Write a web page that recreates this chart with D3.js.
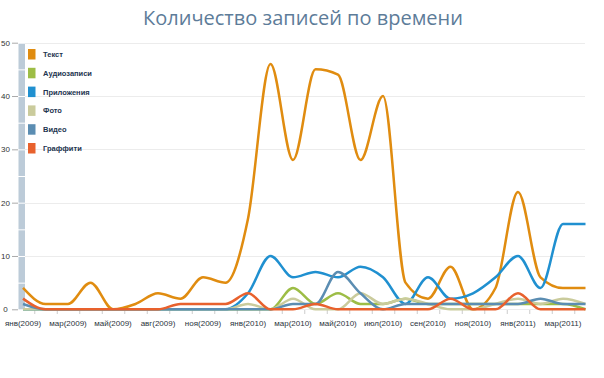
<!DOCTYPE html>
<html>
<head>
<meta charset="utf-8">
<script src="https://cdn.jsdelivr.net/npm/d3@7"></script>
<style>
body { margin: 0; background: #fff; }
svg { display: block; }
</style>
</head>
<body>
<svg id="svg"></svg>
<script>
var width = 604, height = 378;

// x categories (every other one is labelled)
var points = d3.range(26);
var tickLabels = ["янв(2009)", "мар(2009)", "май(2009)", "авг(2009)", "ноя(2009)", "янв(2010)",
	"мар(2010)", "май(2010)", "июл(2010)", "сен(2010)", "ноя(2010)", "янв(2011)", "мар(2011)"];

var seriesNames = ["Текст", "Аудиозаписи", "Приложения", "Фото", "Видео", "Граффити"];
var seriesColors = ["#e08c10", "#9dbd46", "#2090d0", "#cacb9c", "#5b8db2", "#e8612d"];

var text    = [4, 1, 1, 5, 0, 1, 3, 2, 6, 5, 17, 46, 28, 45, 44, 28, 40, 5, 2, 8, 0, 4, 22, 6, 4, 4];
var audio   = [0, 0, 0, 0, 0, 0, 0, 0, 0, 0, 0, 0, 4, 1, 3, 1, 1, 2, 1, 1, 1, 1, 1, 1, 1, 0];
var apps    = [0, 0, 0, 0, 0, 0, 0, 0, 0, 0, 3, 10, 6, 7, 6, 8, 6, 1, 6, 2, 3, 6, 10, 4, 16, 16];
var photo   = [0, 0, 0, 0, 0, 0, 0, 0, 0, 0, 1, 0, 2, 0, 0, 3, 1, 2, 1, 0, 0, 1, 2, 1, 2, 1];
var video   = [1, 0, 0, 0, 0, 0, 0, 0, 0, 0, 0, 0, 1, 1, 7, 3, 0, 1, 1, 1, 1, 1, 1, 2, 1, 1];
var graffiti = [2, 0, 0, 0, 0, 0, 0, 1, 1, 1, 3, 0, 0, 1, 0, 0, 0, 0, 0, 2, 0, 0, 3, 0, 0, 0];

var series = [text, audio, apps, photo, video, graffiti];

var svg = d3.select("#svg")
	.attr("width", width)
	.attr("height", height);

var x = d3.scalePoint()
	.domain(points)
	.range([23, 585.5]);

var y = d3.scaleLinear()
	.domain([0, 50])
	.range([309.3, 42.7]);

// title
svg.append("text")
	.attr("x", 303)
	.attr("y", 25)
	.attr("text-anchor", "middle")
	.style("font-family", "'Open Sans', sans-serif")
	.style("font-size", "20px")
	.style("fill", "#5d7c99")
	.text("Количество записей по времени");

// grid lines
svg.append("g")
	.selectAll("line")
	.data(y.ticks(5))
	.enter()
	.append("line")
	.attr("x1", 25)
	.attr("x2", 585)
	.attr("y1", function(d) { return Math.round(y(d)) + 0.5; })
	.attr("y2", function(d) { return Math.round(y(d)) + 0.5; })
	.style("stroke", "#ececec");

// left axis bar, split every 5 units
var segs = d3.range(0, 50, 5);
svg.append("g")
	.selectAll("rect")
	.data(segs)
	.enter()
	.append("rect")
	.attr("x", 18.5)
	.attr("width", 6.5)
	.attr("y", function(d) { return y(d + 5) + 1; })
	.attr("height", function(d) { return y(d) - y(d + 5) - 1; })
	.style("fill", "#bccbd8");

var yAxis = d3.axisLeft(y)
	.ticks(5)
	.tickSize(6)
	.tickPadding(0);

var yg = svg.append("g")
	.attr("transform", "translate(18, 0)")
	.call(yAxis);
yg.select(".domain").remove();
yg.selectAll(".tick line").style("stroke", "#aaa");
yg.selectAll(".tick text")
	.attr("x", -12.5)
	.attr("text-anchor", "middle")
	.style("font-family", "'Liberation Sans', Arial, sans-serif")
	.style("font-size", "8px")
	.style("fill", "#333");

// x axis: small ticks between points, labels on every other point
var mids = d3.range(25).map(function(i) { return (x(i) + x(i + 1)) / 2; });
var xTicks = d3.scaleLinear().domain([0, width]).range([0, width]);
var xg = svg.append("g")
	.attr("transform", "translate(0, 310)")
	.call(d3.axisBottom(xTicks).tickValues(mids).tickSize(4).tickFormat(""));
xg.select(".domain").remove();
xg.selectAll(".tick line").style("stroke", "#ccc");

svg.append("g")
	.selectAll("text")
	.data(tickLabels)
	.enter()
	.append("text")
	.attr("x", function(d, i) { return x(i * 2); })
	.attr("y", 326)
	.attr("text-anchor", "middle")
	.style("font-family", "'Liberation Sans', Arial, sans-serif")
	.style("font-size", "8px")
	.style("fill", "#2b3440")
	.text(function(d) { return d; });

// lines
var line = d3.line()
	.x(function(d, i) { return x(i); })
	.y(function(d) { return y(d); })
	.curve(d3.curveMonotoneX);

svg.append("g")
	.selectAll("path")
	.data(series)
	.enter()
	.append("path")
	.attr("d", line)
	.style("fill", "none")
	.style("stroke-width", 2.5)
	.style("stroke-linejoin", "round")
	.style("stroke", function(d, i) { return seriesColors[i]; });

// legend
var legend = svg.append("g")
	.selectAll("g")
	.data(seriesNames)
	.enter()
	.append("g")
	.attr("transform", function(d, i) { return "translate(28," + (49 + i * 18.8) + ")"; });

legend.append("rect")
	.attr("width", 7.5)
	.attr("height", 10.5)
	.style("fill", function(d, i) { return seriesColors[i]; });

legend.append("text")
	.attr("x", 15)
	.attr("y", 8)
	.style("font-family", "'Liberation Sans', Arial, sans-serif")
	.style("font-size", "7.5px")
	.style("font-weight", "bold")
	.style("fill", "#1e3550")
	.text(function(d) { return d; });
</script>
</body>
</html>
